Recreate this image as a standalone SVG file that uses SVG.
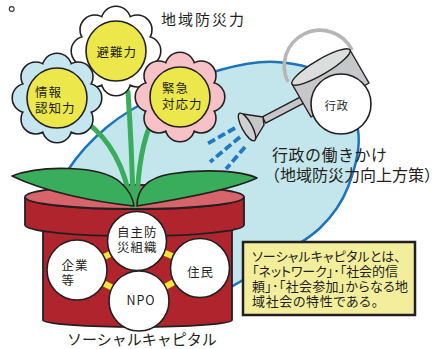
<svg xmlns="http://www.w3.org/2000/svg" width="441" height="349" viewBox="0 0 441 349">
  <style>
    text { font-family: "Noto Sans CJK JP", "Noto Sans", sans-serif; fill: #231f20; }
    .pe { fill: #231f20; stroke: #231f20; stroke-width: 3.2; }
    .core { fill: #ece74b; stroke: #231f20; stroke-width: 1.6; }
    .stem { fill: none; stroke: #3aad5c; stroke-width: 5; stroke-linecap: round; }
    .leaf { fill: #3aad5c; stroke: #231f20; stroke-width: 1.6; stroke-linejoin: round; }
    .node circle { fill: #fff; stroke: #231f20; stroke-width: 1.6; }
    .link { stroke: #f2e53b; stroke-width: 6; }
    .spray { fill: none; stroke: #2278c5; stroke-width: 3.8; stroke-dasharray: 8 3.5; }
    .steel { fill: #c6c7c8; stroke: #231f20; stroke-width: 1.4; stroke-linejoin: round; }
    .fl { font-size: 12.5px; letter-spacing: 1px; }
    .big { font-size: 16px; }
    .note { font-size: 13px; font-feature-settings: "palt"; }
  </style>
  <defs>
    <!-- ring of eight round petals around (0,0) -->
    <path id="petals" d="M16,0 a14,14 0 1 0 28,0 a14,14 0 1 0 -28,0 z
      M7.2,21.2 a14,14 0 1 0 28,0 a14,14 0 1 0 -28,0 z
      M-14,30 a14,14 0 1 0 28,0 a14,14 0 1 0 -28,0 z
      M-35.2,21.2 a14,14 0 1 0 28,0 a14,14 0 1 0 -28,0 z
      M-44,0 a14,14 0 1 0 28,0 a14,14 0 1 0 -28,0 z
      M-35.2,-21.2 a14,14 0 1 0 28,0 a14,14 0 1 0 -28,0 z
      M-14,-30 a14,14 0 1 0 28,0 a14,14 0 1 0 -28,0 z
      M7.2,-21.2 a14,14 0 1 0 28,0 a14,14 0 1 0 -28,0 z"/>
  </defs>

  <rect width="441" height="349" fill="#fff"/>
  <circle cx="11.7" cy="9" r="2.4" fill="#fff" stroke="#333" stroke-width="1.1"/>

  <!-- backdrop: the administration's sphere of action -->
  <path id="backdrop" fill="#c3e6ed" stroke="#1e73be" stroke-width="2.5"
    d="M50,215 C48,196.7 58.5,184.7 68,170 C77.5,155.3 91.7,139.7 107,127
       C122.3,114.3 141.2,103.5 160,94 C178.8,84.5 200.7,75.3 220,70
       C239.3,64.7 257.7,60.7 276,62 C294.3,63.3 316.3,66.7 330,78
       C343.7,89.3 355,111.8 358,130 C361,148.2 354.3,170.7 348,187
       C341.7,203.3 333,215.5 320,228 C307,240.5 285.8,251.7 270,262
       C254.2,272.3 245,280.3 225,290 C205,299.7 174.2,321.7 150,320
       C125.8,318.3 96.7,297.5 80,280 C63.3,262.5 52,233.3 50,215 Z"/>

  <!-- pot -->
  <g id="pot">
    <path fill="#b0252d" stroke="#231f20" stroke-width="1.8"
      d="M43,215 L43,320 A94.5,7 0 0 0 232,320 L232,215 Z"/>
    <path fill="#b0252d" stroke="#231f20" stroke-width="1.8"
      d="M25,197 L25,225 A109.5,11 0 0 0 244,225 L244,197 A109.5,12 0 0 1 25,197 Z"/>
    <ellipse cx="134.5" cy="197" rx="109.5" ry="12" fill="#d7636b" stroke="#231f20" stroke-width="1.8"/>
  </g>

  <!-- stems and leaves -->
  <g id="plant">
    <path class="stem" d="M86,122 Q122,148 131,205"/>
    <path class="stem" d="M128,92 Q132,150 133,205"/>
    <path class="stem" d="M153,118 Q138,150 137,205"/>
    <path class="leaf" d="M12,176 C40,165 100,165 120,182 C128,189 133,198 134,206 C95,202 45,192 12,176 Z"/>
    <path class="leaf" d="M137,206 C137,190 147,178 170,174 C200,169 240,170 257,178 C240,186 200,196 137,206 Z"/>
  </g>

  <!-- flowers -->
  <g id="flower-hinan">
    <use href="#petals" x="116" y="51" class="pe"/>
    <use href="#petals" x="116" y="51" fill="#fff"/>
    <circle class="core" cx="116" cy="51" r="30"/>
    <text class="fl" x="96.5" y="57">避難力</text>
  </g>
  <g id="flower-joho">
    <use href="#petals" x="57" y="98" class="pe"/>
    <use href="#petals" x="57" y="98" fill="#c6e6ef"/>
    <circle class="core" cx="57" cy="98" r="30"/>
    <text class="fl" x="35" y="96.5">情報</text>
    <text class="fl" x="35" y="112.5">認知力</text>
  </g>
  <g id="flower-kinkyu">
    <use href="#petals" x="180" y="97" class="pe"/>
    <use href="#petals" x="180" y="97" fill="#f6c1c7"/>
    <circle class="core" cx="180" cy="97" r="30"/>
    <text class="fl" x="162" y="93">緊急</text>
    <text class="fl" x="162" y="109">対応力</text>
  </g>

  <text id="title" x="161" y="24.5" font-size="15" letter-spacing="2">地域防災力</text>

  <!-- watering can -->
  <g id="gyosei">
    <path d="M288,82 A33,33 0 1 1 352,50" fill="none" stroke="#b5b6b7" stroke-width="3.6"/>
    <path class="steel" d="M262.4,116.9 L304.4,94.9 L307.6,101.1 L265.6,123.1 Z"/>
    <path class="steel" d="M292,84 L350,50 L369,83 L311,117 Z"/>
    <ellipse cx="321" cy="67" rx="33.6" ry="7.5" transform="rotate(-30.4 321 67)" fill="#dcdddd" stroke="#231f20" stroke-width="1.4"/>
    <path class="steel" d="M239.5,113.5 L263,117 L264,125 L254.5,140.5 Z"/>
    <ellipse cx="247" cy="127" rx="15.6" ry="5" transform="rotate(61.3 247 127)" fill="#cfd0d1" stroke="#231f20" stroke-width="1.4"/>
    <circle cx="341" cy="104" r="30" fill="#fff" stroke="#231f20" stroke-width="1.6"/>
    <text x="324.5" y="110" font-size="11.5" letter-spacing="0.5">行政</text>
  </g>

  <!-- water spray -->
  <g id="spray">
    <line class="spray" x1="235" y1="128" x2="208" y2="143.5"/>
    <line class="spray" x1="240" y1="137" x2="210" y2="162"/>
    <line class="spray" x1="245" y1="147" x2="226" y2="169"/>
  </g>

  <text class="big" x="272" y="161" letter-spacing="0.5">行政の働きかけ</text>
  <text class="big" x="264" y="180.5" font-size="16.5">（地域防災力向上方策）</text>

  <!-- links inside the pot -->
  <g id="connectors">
    <line class="link" x1="137" y1="241" x2="77" y2="270"/>
    <line class="link" x1="137" y1="241" x2="200" y2="268"/>
    <line class="link" x1="77" y1="270" x2="139" y2="301"/>
    <line class="link" x1="139" y1="301" x2="200" y2="268"/>
  </g>

  <g id="node-jishubo" class="node">
    <circle cx="137" cy="241" r="29.5"/>
    <text class="fl" x="117" y="236.5">自主防</text>
    <text class="fl" x="117" y="251.5">災組織</text>
  </g>
  <g id="node-kigyo" class="node">
    <circle cx="77" cy="270" r="30"/>
    <text class="fl" x="61.5" y="269.5">企業</text>
    <text class="fl" x="61.5" y="285">等</text>
  </g>
  <g id="node-jumin" class="node">
    <circle cx="200" cy="268" r="29.5"/>
    <text class="fl" x="187" y="276.5">住民</text>
  </g>
  <g id="node-npo" class="node">
    <circle cx="139" cy="301" r="30"/>
    <text class="fl" x="141" y="305" text-anchor="middle">NPO</text>
  </g>

  <text x="67" y="345" font-size="15">ソーシャルキャピタル</text>

  <!-- definition note -->
  <g id="note">
    <rect x="243" y="242" width="172" height="73" fill="#f3ee9c" stroke="#231f20" stroke-width="2.5"/>
    <text class="note" x="252" y="261" textLength="149" lengthAdjust="spacing">ソーシャルキャピタルとは、</text>
    <text class="note" x="252" y="276" textLength="146" lengthAdjust="spacing">「ネットワーク」･「社会的信</text>
    <text class="note" x="252" y="291" textLength="156" lengthAdjust="spacing">頼」･「社会参加」からなる地</text>
    <text class="note" x="252" y="306" textLength="126" lengthAdjust="spacing">域社会の特性である。</text>
  </g>
</svg>
